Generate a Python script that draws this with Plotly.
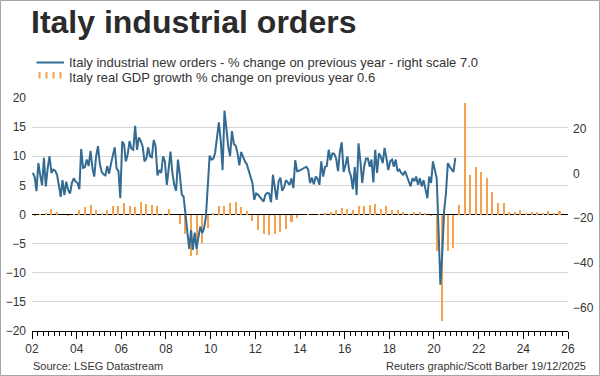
import plotly.graph_objects as go
import pandas as pd

# ---------------- data ----------------
# Italy real GDP growth, % change on previous year (quarterly, 2002 Q1 .. 2025 Q3) - left scale
gdp_start = "2002-01-01"
gdp_growth = [
    -0.3, 0.1, 0.3, 1.0, 0.5, 0.0, -0.3, 0.1, 0.8, 1.3, 1.7, 0.8, 0.3, 0.8, 1.4, 1.5,
    2.0, 1.5, 1.3, 2.1, 1.8, 1.7, 1.4, 0.1, 1.0, 0.0, -1.6, -3.3, -7.2, -6.9, -4.9, -2.3,
    0.3, 1.5, 1.5, 2.0, 2.1, 1.3, 0.6,
    -1.2, -2.7, -3.3, -3.6, -3.3, -3.0, -2.5, -1.3, -0.6, 0.0, 0.1, 0.0, 0.1, 0.2, 0.4,
    0.7, 1.1, 0.9, 0.8, 1.4,
    1.4, 1.6, 1.8, 1.0, 1.4, 0.8, 0.7, 0.5, 0.1, 0.5, 0.5, 0.3, -0.3,
    -6.2, -18.2, -6.2, -5.7, 1.6, 19.1, 6.8,
    8.1, 7.3, 6.3, 3.8, 2.0, 2.0, 0.4, 0.4, 0.8, 0.2, 0.5, 0.5, 0.3, 0.6, 0.3, 0.6,
]

# Italy industrial new orders, % change on previous year (monthly) - right scale
orders_start = "2002-01-01"
orders_2002 = [0.2, -1.7, -7.9, 4.6, -0.6, -5.3, 7.0, -5.8, 2.5, 7.7, 0.2, 1.7]
orders_2003 = [1.2, -0.6, -5.1, -10.5, -3.0, -9.7, -3.7, -7.4, -9.0, -4.3, -2.2, -3.7]
orders_2004 = [-4.3, -7.1, 10.9, 2.5, 2.8, 6.2, 3.3, 10.1, 2.5, -1.4, 7.7, 12.2]
orders_2005 = [4.1, 0.7, -0.4, -0.9, 3.3, -0.1, 4.3, 7.5, 11.7, 2.3, 1.0, -11.1]
orders_2006 = [14.3, 13.0, 5.4, 8.5, 14.5, 11.1, 10.6, 21.3, 10.6, 16.1, 14.5, 12.2]
orders_2007 = [5.4, 6.7, 11.7, 7.7, 7.2, 15.0, 12.2, -0.9, 1.5, 0.2, 7.7, 5.4]
orders_2008 = [-5.1, 2.3, 9.8, 0.2, -5.1, -7.7, 6.2, -0.6, -9.5, -10.3, -18.1, -25.9]
orders_2009 = [-33.8, -25.4, -34.3, -26.5, -33.8, -28.5, -23.8, -26.7, -24.6, -19.4, -5.1, 8.0]
orders_2010 = [6.2, 6.7, 9.3, 17.1, 22.9, 14.5, 1.5, 28.1, 18.7, 12.2, 7.7, 19.0]
orders_2011 = [13.2, 12.4, 9.3, 3.6, 9.6, 7.0, 5.4, 4.1, 1.0, -1.4, -4.3, -11.8]
orders_2012 = [-9.0, -9.5, -10.5, -11.3, -12.6, -9.5, -8.7, -9.0, -12.9, -0.6, -7.7, -11.8]
orders_2013 = [-3.7, -1.9, -7.7, -6.4, -3.0, -4.3, -5.1, -2.2, -6.6, 5.9, 1.0, 1.2]
orders_2014 = [1.7, 2.0, 2.3, 3.0, 1.7, -4.3, -1.9, -4.8, -1.4, -2.4, -5.1, 5.4]
orders_2015 = [-1.4, 3.0, 3.3, 10.6, 5.9, 9.0, 8.8, 6.7, 1.0, 9.6, 14.0, 0.7]
orders_2016 = [3.8, 7.7, 1.2, -1.4, -7.1, 2.8, -9.7, 13.5, 5.4, -4.3, 3.0, 6.7]
orders_2017 = [6.7, 3.0, 6.2, -4.0, 10.6, 0.2, 9.0, 7.5, 4.6, 11.4, 6.7, 1.5]
orders_2018 = [5.4, 6.2, 3.0, 6.2, 1.0, 1.7, 0.2, -0.6, 1.0, -1.4, -3.5, -5.8]
orders_2019 = [-2.2, -3.5, -1.4, -5.1, -2.2, -5.8, -3.0, -6.6, -11.1, -1.4, -4.3, 5.4]
orders_2020 = [1.7, -2.2, -24.6, -49.9, -36.4, -16.8, -9.0, 4.6, 3.0, 1.7, 0.7, 7.0]

orders = (orders_2002 + orders_2003 + orders_2004 + orders_2005 + orders_2006 +
          orders_2007 + orders_2008 + orders_2009 + orders_2010 + orders_2011 +
          orders_2012 + orders_2013 + orders_2014 + orders_2015 + orders_2016 +
          orders_2017 + orders_2018 + orders_2019 + orders_2020)

# axis ticks
x_tick_years = list(range(2002, 2027, 2))
x_tick_labels = ["02", "04", "06", "08", "10", "12", "14", "16", "18", "20", "22", "24", "26"]
left_ticks = [-20, -15, -10, -5, 0, 5, 10, 15, 20]
right_ticks = [-60, -40, -20, 0, 20]

title_text = "Italy industrial orders"
legend_orders = "Italy industrial new orders - % change on previous year - right scale 7.0"
legend_gdp = "Italy real GDP growth % change on previous year 0.6"
source_text = "Source: LSEG Datastream"
credit_text = "Reuters graphic/Scott Barber 19/12/2025"

# ---------------- styling / layout ----------------
W, H = 600, 376
ML, MR, MT, MB = 32, 32, 98, 45
PW, PH = W - ML - MR, H - MT - MB

BLUE = "#336B93"
ORANGE = "#F5A24E"
TXT = "#333333"
FONT = "Liberation Sans, Arial, sans-serif"


def pxx(x):
    return (x - ML) / PW


def pxy(y):
    return (H - MB - y) / PH


gdp_dates = pd.date_range(gdp_start, periods=len(gdp_growth), freq="QS") + pd.Timedelta(days=45)
order_dates = pd.date_range(orders_start, periods=len(orders), freq="MS") + pd.Timedelta(days=14)
x_tick_vals = [pd.Timestamp(f"{y}-01-01") for y in x_tick_years]

fig = go.Figure()
fig.add_trace(go.Bar(
    x=gdp_dates, y=gdp_growth, yaxis="y",
    marker=dict(color=ORANGE, line=dict(width=0)),
    width=33 * 24 * 3600 * 1000,
    showlegend=False, hoverinfo="skip",
))
fig.add_trace(go.Scatter(
    x=order_dates, y=orders, yaxis="y2", mode="lines",
    line=dict(color=BLUE, width=2),
    showlegend=False, hoverinfo="skip",
))

shapes = []
# outer frame
shapes.append(dict(type="rect", xref="paper", yref="paper",
                   x0=pxx(0.5), x1=pxx(W - 0.5), y0=pxy(0.5), y1=pxy(H - 0.5),
                   line=dict(color="#A6A6A6", width=1), layer="above"))
# legend symbols
shapes.append(dict(type="line", xref="paper", yref="paper",
                   x0=pxx(36.5), x1=pxx(64), y0=pxy(62.5), y1=pxy(62.5),
                   line=dict(color=BLUE, width=2)))
for bx in [39.5, 46.5, 53.5, 60.5]:
    shapes.append(dict(type="line", xref="paper", yref="paper",
                       x0=pxx(bx), x1=pxx(bx), y0=pxy(72), y1=pxy(78.5),
                       line=dict(color=ORANGE, width=2)))

annotations = [
    dict(text=f"<b>{title_text}</b>", xref="paper", yref="paper",
         x=pxx(29), y=pxy(22), xanchor="left", yanchor="middle",
         showarrow=False, font=dict(family=FONT, size=32, color="#2B2B2B")),
    dict(text=legend_orders, xref="paper", yref="paper",
         x=pxx(67), y=pxy(62.5), xanchor="left", yanchor="middle",
         showarrow=False, font=dict(family=FONT, size=13, color=TXT)),
    dict(text=legend_gdp, xref="paper", yref="paper",
         x=pxx(67), y=pxy(77.5), xanchor="left", yanchor="middle",
         showarrow=False, font=dict(family=FONT, size=13, color=TXT)),
    dict(text=source_text, xref="paper", yref="paper",
         x=pxx(31), y=pxy(366), xanchor="left", yanchor="middle",
         showarrow=False, font=dict(family=FONT, size=11, color=TXT)),
    dict(text=credit_text, xref="paper", yref="paper",
         x=pxx(588), y=pxy(366), xanchor="right", yanchor="middle",
         showarrow=False, font=dict(family=FONT, size=11, color=TXT)),
]

fig.update_layout(
    width=W, height=H,
    margin=dict(l=ML, r=MR, t=MT, b=MB, pad=0, autoexpand=False),
    paper_bgcolor="white", plot_bgcolor="white",
    font=dict(family=FONT, size=12, color=TXT),
    bargap=0,
    showlegend=False,
    xaxis=dict(
        type="date", automargin=False,
        range=["2002-01-01", "2026-01-01"],
        showgrid=False, zeroline=False,
        showline=True, linecolor="black", linewidth=1,
        tickmode="array", tickvals=x_tick_vals, ticktext=x_tick_labels,
        ticks="outside", ticklen=7, tickcolor="black", tickwidth=1,
        tickfont=dict(size=12, color=TXT),
        minor=dict(dtick="M3", tick0="2002-01-01", ticks="outside", ticklen=4,
                   tickcolor="black", tickwidth=1, showgrid=False),
    ),
    yaxis=dict(
        automargin=False,
        range=[-20, 20], tickmode="array", tickvals=left_ticks,
        showgrid=True, gridcolor="#D6D6D6", gridwidth=1,
        zeroline=True, zerolinecolor="black", zerolinewidth=1.5,
        ticks="", showline=False, ticklabelstandoff=5,
        tickfont=dict(size=12, color=TXT),
    ),
    yaxis2=dict(
        automargin=False,
        range=[-70.6, 33.8], overlaying="y", side="right",
        tickmode="array", tickvals=right_ticks,
        showgrid=False, zeroline=False, showline=False, ticks="",
        ticklabelstandoff=4,
        tickfont=dict(size=12, color=TXT),
    ),
    shapes=shapes,
    annotations=annotations,
)

fig.write_html(
    "out.html",
    config={"displayModeBar": False, "staticPlot": True},
    post_script="document.body.style.margin='0';document.body.style.overflow='hidden';",
)
